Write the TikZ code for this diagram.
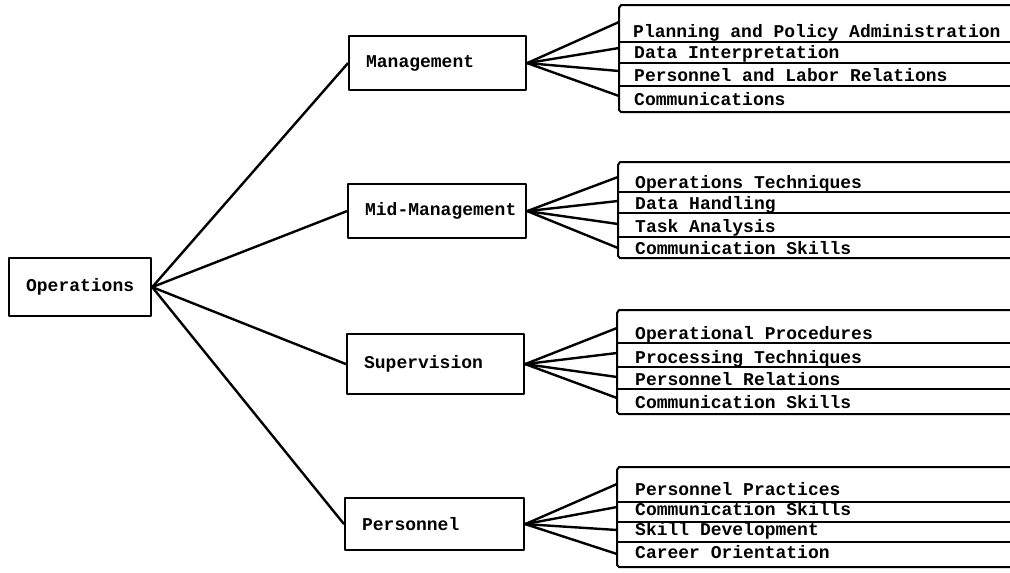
\documentclass[tikz,border=0pt]{standalone}
\usepackage{fontspec}
\setmonofont{Liberation Mono}
\begin{document}
\begin{tikzpicture}[x=1pt,y=-1pt,
  line join=round,
  frame/.style={line width=2pt},
  link/.style={line width=2.4pt},
  mainbox/.style={draw,line width=2.2pt,inner xsep=17pt,inner ysep=0pt,align=left,
    font=\ttfamily\bfseries\fontsize{18}{20}\selectfont,anchor=north west},
  itemtext/.style={inner sep=0pt,anchor=base west,
    font=\ttfamily\bfseries\fontsize{18}{20}\selectfont}]
\useasboundingbox (0,0) rectangle (1010,573);
\fill[white] (0,0) rectangle (1010,573);

% root and second-level boxes
\node[mainbox,text width=108pt,minimum height=58pt] (ops) at (8,257) {Operations};
\node[mainbox,text width=143pt,minimum height=54pt] (mgmt) at (348,35) {Management};
\node[mainbox,text width=144pt,minimum height=54pt] (mid) at (347,183) {Mid-Management};
\node[mainbox,text width=143pt,minimum height=60pt] (sup) at (346,333) {Supervision};
\node[mainbox,text width=145pt,minimum height=52pt] (pers) at (344,497) {Personnel};

\foreach \b in {mgmt,mid,sup,pers}
  \draw[link] (ops.east) -- (\b.west);

% Management group
\draw[frame] (1010,5) -- (621,5) -- (619,8) -- (619,110) -- (621,112) -- (1010,112);
\foreach \y in {42,63,86} \draw[frame] (619,\y) -- (1010,\y);
\node[itemtext] (m1) at (633,37) {Planning and Policy Administration};
\node[itemtext] (m2) at (634,58) {Data Interpretation};
\node[itemtext] (m3) at (634,81) {Personnel and Labor Relations};
\node[itemtext] (m4) at (634,105) {Communications};
\coordinate (m1in) at (619,22);
\coordinate (m2in) at (619,48);
\coordinate (m3in) at (619,71);
\coordinate (m4in) at (619,96);

% Mid-Management group
\draw[frame] (1010,162) -- (620,162) -- (618,165) -- (618,256) -- (620,258) -- (1010,258);
\foreach \y in {192,213,237} \draw[frame] (618,\y) -- (1010,\y);
\node[itemtext] (d1) at (635,188) {Operations Techniques};
\node[itemtext] (d2) at (635,209) {Data Handling};
\node[itemtext] (d3) at (635,232) {Task Analysis};
\node[itemtext] (d4) at (635,254) {Communication Skills};
\coordinate (d1in) at (618,177);
\coordinate (d2in) at (618,201);
\coordinate (d3in) at (618,224);
\coordinate (d4in) at (618,248);

% Supervision group
\draw[frame] (1010,310) -- (619,310) -- (617,313) -- (617,412) -- (619,414) -- (1010,414);
\foreach \y in {343,367,389} \draw[frame] (617,\y) -- (1010,\y);
\node[itemtext] (s1) at (635,339) {Operational Procedures};
\node[itemtext] (s2) at (635,363) {Processing Techniques};
\node[itemtext] (s3) at (635,385) {Personnel Relations};
\node[itemtext] (s4) at (635,408) {Communication Skills};
\coordinate (s1in) at (617,328);
\coordinate (s2in) at (617,353);
\coordinate (s3in) at (617,377);
\coordinate (s4in) at (617,398);

% Personnel group
\draw[frame] (1010,467) -- (619,467) -- (617,470) -- (617,565) -- (619,567) -- (1010,567);
\foreach \y in {502,522,542} \draw[frame] (617,\y) -- (1010,\y);
\node[itemtext] (p1) at (635,495) {Personnel Practices};
\node[itemtext] (p2) at (635,515) {Communication Skills};
\node[itemtext] (p3) at (635,535) {Skill Development};
\node[itemtext] (p4) at (635,558) {Career Orientation};
\coordinate (p1in) at (617,484);
\coordinate (p2in) at (617,507);
\coordinate (p3in) at (617,530);
\coordinate (p4in) at (617,554);

% fan-out connectors from each box to its rows
\foreach \g/\b in {m/mgmt,d/mid,s/sup,p/pers}
  \foreach \i in {1,...,4}
    \draw[link] (\b.east) -- (\g\i in);
\end{tikzpicture}
\end{document}
